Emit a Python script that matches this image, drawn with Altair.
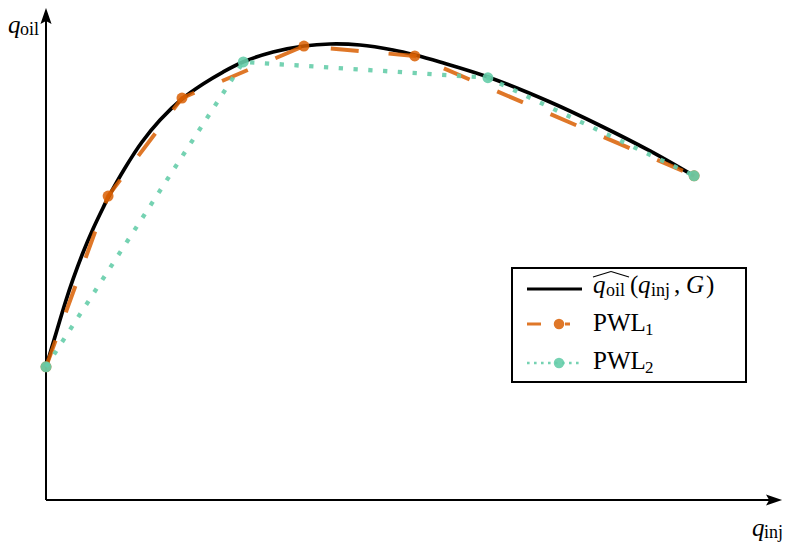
import altair as alt
import pandas as pd

# ---- data (arbitrary units) ----
curve_x = [0.000, 0.149, 0.257, 0.365, 0.501, 0.636, 0.771, 0.839, 1.069, 1.299,
           1.543, 1.840, 2.125, 2.395, 2.666, 3.072, 3.491, 3.843, 4.249, 4.696,
           4.993, 5.332, 5.981, 6.820, 7.497, 8.173, 8.769]
curve_y = [2.687, 3.434, 3.970, 4.455, 5.000, 5.475, 5.899, 6.101, 6.707, 7.232,
           7.677, 8.101, 8.404, 8.646, 8.848, 9.051, 9.172, 9.212, 9.192, 9.091,
           8.990, 8.848, 8.545, 8.040, 7.566, 7.051, 6.545]

pwl1_x = [0.00, 0.84, 1.84, 3.49, 4.99, 8.77]
pwl1_y = [2.69, 6.14, 8.12, 9.17, 8.97, 6.55]

pwl2_x = [0.00, 2.67, 5.98, 8.77]
pwl2_y = [2.69, 8.85, 8.53, 6.55]

X_MAX = 9.973
Y_MAX = 9.939

ORANGE = "#d95f02"
TEAL = "#66cdaa"
SERIF = "Liberation Serif"

curve = pd.DataFrame({"x": curve_x, "y": curve_y})
pwl1 = pd.DataFrame({"x": pwl1_x, "y": pwl1_y})
pwl2 = pd.DataFrame({"x": pwl2_x, "y": pwl2_y})

xs = alt.Scale(domain=[0, X_MAX], nice=False, zero=False)
ys = alt.Scale(domain=[0, Y_MAX], nice=False, zero=False)
X = lambda f="x": alt.X(f, type="quantitative", scale=xs, axis=None)
Y = lambda f="y": alt.Y(f, type="quantitative", scale=ys, axis=None)

one = pd.DataFrame({"a": [0]})

# ---- axes with arrowheads ----
axes_df = pd.DataFrame({"x": [0.0, 0.0], "y": [0.0, 0.0], "x2": [9.84, 0.0], "y2": [0.0, 9.76]})
axes = alt.Chart(axes_df).mark_rule(color="black", strokeWidth=2).encode(
    x=X(), y=Y(), x2="x2:Q", y2="y2:Q")

arrow_up = "M0,-1L0.62,0.8L0,0.45L-0.62,0.8Z"
arrow_right = "M1,0L-0.8,0.62L-0.45,0L-0.8,-0.62Z"
head_up = alt.Chart(pd.DataFrame({"x": [0.0], "y": [9.76]})).mark_point(
    shape=arrow_up, filled=True, color="black", opacity=1, size=320, strokeWidth=0
).encode(x=X(), y=Y())
head_right = alt.Chart(pd.DataFrame({"x": [9.84], "y": [0.0]})).mark_point(
    shape=arrow_right, filled=True, color="black", opacity=1, size=320, strokeWidth=0
).encode(x=X(), y=Y())

# ---- series ----
black_line = alt.Chart(curve).mark_line(color="black", strokeWidth=3.7,
                                        interpolate="catmull-rom").encode(x=X(), y=Y())
o_line = alt.Chart(pwl1).mark_line(color=ORANGE, strokeWidth=4, opacity=0.85,
                                   strokeDash=[28, 30]).encode(x=X(), y=Y())
o_pts = alt.Chart(pwl1).mark_circle(color=ORANGE, size=120, opacity=0.85).encode(x=X(), y=Y())
t_line = alt.Chart(pwl2).mark_line(color=TEAL, strokeWidth=4.3, opacity=0.9,
                                   strokeDash=[4.3, 10.5]).encode(x=X(), y=Y())
t_pts = alt.Chart(pwl2).mark_circle(color=TEAL, size=120, opacity=0.9).encode(x=X(), y=Y())


def txt(s, x, y, size, italic=False):
    return alt.Chart(one).mark_text(
        text=s, font=SERIF, fontSize=size, fontStyle="italic" if italic else "normal",
        align="left", baseline="alphabetic", color="black"
    ).encode(x=alt.value(x), y=alt.value(y))


def seg(x1, y1, x2, y2, color="black", w=1.3, dash=None, opacity=1.0):
    kw = dict(color=color, strokeWidth=w, opacity=opacity)
    if dash:
        kw["strokeDash"] = dash
    return alt.Chart(one).mark_rule(**kw).encode(
        x=alt.value(x1), y=alt.value(y1), x2=alt.value(x2), y2=alt.value(y2))


def dot(x, y, color, opacity):
    return alt.Chart(one).mark_circle(color=color, size=110, opacity=opacity).encode(
        x=alt.value(x), y=alt.value(y))


# ---- axis labels ----
labels = [
    txt("q", -38, 25, 25, italic=True),
    txt("oil", -26, 27, 18),
    txt("q", 706, 528, 25, italic=True),
    txt("inj", 718, 530, 18),
]

# ---- legend ----
legend_box = alt.Chart(one).mark_rect(fill="white", stroke="black", strokeWidth=2).encode(
    x=alt.value(466), x2=alt.value(700), y=alt.value(260), y2=alt.value(374))

legend = [
    legend_box,
    seg(481, 281, 536, 281, w=3),
    seg(481, 316, 524, 316, color=ORANGE, w=3, dash=[14, 24], opacity=0.85),
    dot(513, 316, ORANGE, 0.85),
    seg(481, 355, 534, 355, color=TEAL, w=2.6, dash=[2.6, 4.4], opacity=0.9),
    dot(513, 355, TEAL, 0.9),
    # row 1 text: \hat{q}_oil(q_inj, G)
    seg(547, 269, 565, 263.5, w=1.1),
    seg(565, 263.5, 583, 269, w=1.1),
    txt("q", 547, 285, 25, italic=True),
    txt("oil", 560, 288, 18),
    txt("(", 584, 285, 25),
    txt("q", 592, 285, 25, italic=True),
    txt("inj", 605, 288, 18),
    txt(",", 628, 285, 25),
    txt("G", 640, 285, 25, italic=True),
    txt(")", 660, 285, 25),
    txt("PWL", 547, 323, 25),
    txt("1", 599, 327, 17),
    txt("PWL", 547, 361, 25),
    txt("2", 599, 365, 17),
]

chart = alt.layer(
    axes, head_up, head_right,
    black_line, o_line, o_pts, t_line, t_pts,
    *labels, *legend
).properties(
    width=737, height=492,
    autosize=alt.AutoSizeParams(type="none"),
    padding={"left": 38, "top": 0, "right": 0, "bottom": 42},
).configure_view(stroke=None)

chart.save("out.html", embed_options={"renderer": "svg", "actions": False})
